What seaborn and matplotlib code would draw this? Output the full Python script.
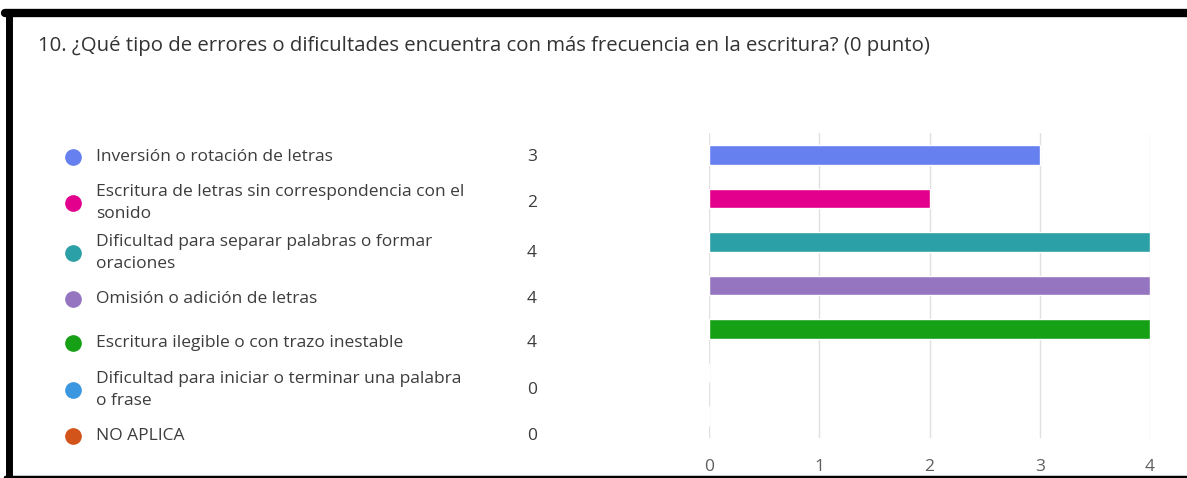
import textwrap
import matplotlib.pyplot as plt
import seaborn as sns

title = "10. ¿Qué tipo de errores o dificultades encuentra con más frecuencia en la escritura? (0 punto)"
categories = [
    "Inversión o rotación de letras",
    "Escritura de letras sin correspondencia con el sonido",
    "Dificultad para separar palabras o formar oraciones",
    "Omisión o adición de letras",
    "Escritura ilegible o con trazo inestable",
    "Dificultad para iniciar o terminar una palabra o frase",
    "NO APLICA",
]
counts = [3, 2, 4, 4, 4, 0, 0]
colors = ["#6680F0", "#E2008D", "#2BA0A6", "#9575C0", "#16A015", "#3A97E0", "#D2541A"]
xticks = [0, 1, 2, 3, 4]

sns.set_theme(style="white")
plt.rcParams['font.family'] = ['Open Sans', 'DejaVu Sans']

W, H = 1187, 478
fig = plt.figure(figsize=(W / 100, H / 100), dpi=100)

# bar chart area
ax = fig.add_axes([709 / W, 40 / H, 441 / W, 305 / H])
sns.barplot(x=counts, y=categories, hue=categories, palette=colors,
            orient="h", width=0.45, legend=False, ax=ax, saturation=1)
ax.set_xlim(0, 4)
ax.set_ylim(6.5, -0.5)
ax.set_xticks(xticks)
ax.set_xticklabels([str(t) for t in xticks], fontsize=12.5, color="#5f5f5f")
ax.set_yticks([])
ax.set_ylabel("")
ax.tick_params(axis="x", length=0, pad=15)
for t in xticks:
    ax.axvline(t, color="#e0e0e0", lw=1, zorder=0)
for s in ax.spines.values():
    s.set_visible(False)

# title
fig.text(38 / W, 1 - 46 / H, title, fontsize=14.7, color="#333333", va="center", ha="left")

# legend with counts
row_y = [157, 203, 253, 299, 343, 390, 436]
for label, n, c, y in zip(categories, counts, colors, row_y):
    fy = 1 - y / H
    fig.text(96 / W, fy, textwrap.fill(label, 46), fontsize=12.5, color="#3c3c3c",
             va="center", ha="left", linespacing=1.45)
    fig.text(532 / W, fy, str(n), fontsize=12.5, color="#3c3c3c", va="center", ha="center")
    fig.add_artist(plt.Line2D([73 / W], [fy], marker="o", markersize=11,
                              color=c, transform=fig.transFigure))

# black frame around the screenshot
fig.add_artist(plt.Line2D([5 / W, 1], [1 - 13 / H, 1 - 13 / H], color="black", lw=6,
                          transform=fig.transFigure))
fig.add_artist(plt.Line2D([8.5 / W, 8.5 / W], [1 - 13 / H, 0], color="black", lw=5,
                          transform=fig.transFigure))
fig.add_artist(plt.Line2D([5 / W, 1], [1.5 / H, 1.5 / H], color="black", lw=2.5,
                          transform=fig.transFigure))

fig.savefig("out.png", dpi=100)
plt.close(fig)
